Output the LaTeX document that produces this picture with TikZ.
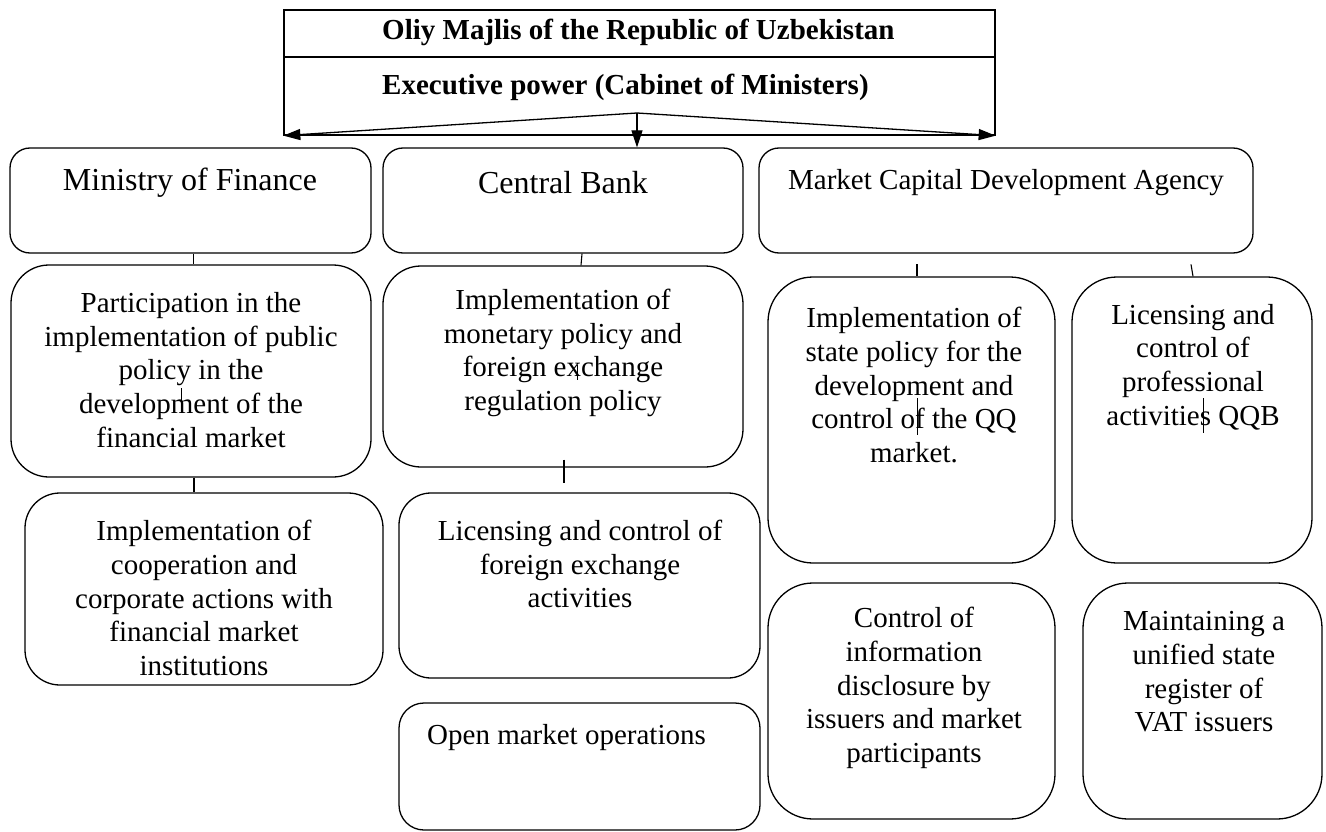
\documentclass[tikz,border=0pt]{standalone}
\usepackage{fontspec}
\setmainfont{Liberation Serif}
\usetikzlibrary{arrows.meta,calc}
\begin{document}
\begin{tikzpicture}[x=1pt,y=-1pt,
  box/.style={draw, line width=1.3pt, inner sep=0pt},
  rbox/.style={box, rounded corners=#1},
  txt/.style={inner sep=0pt, align=center, font=\fontsize{29}{33.7}\selectfont},
  ttl/.style={inner sep=0pt, font=\fontsize{32}{36}\selectfont},
  hd/.style={inner sep=0pt, anchor=west, font=\fontsize{29}{33}\selectfont\bfseries},
  link/.style={line width=1.1pt},
  thin/.style={line width=1pt},
  tip/.style={line width=1.3pt, -{Triangle[length=17pt,width=11pt]}}]

\fill[white] (0,0) rectangle (1326,832);
\useasboundingbox (0,0) rectangle (1326,832);

% header block
\node[box, minimum width=711pt, minimum height=125pt] (hdr) at (639.5,72.5) {};
\coordinate (divy) at (0,57);
\draw[line width=1.3pt] (hdr.west |- divy) -- (hdr.east |- divy);
\node[hd] (oliy) at (382,32) {Oliy Majlis of the Republic of Uzbekistan};
\node[hd] (exec) at (382,87) {Executive power (Cabinet of Ministers)};

% top-level bodies
\node[rbox=20pt, minimum width=361pt, minimum height=105pt] (mof) at (190.5,200.5) {};
\node[rbox=20pt, minimum width=360pt, minimum height=105pt] (cb) at (563,200.5) {};
\node[rbox=20pt, minimum width=494pt, minimum height=105pt] (mcda) at (1006,200.5) {};
\node[ttl] (moft) at (190,183) {Ministry of Finance};
\node[ttl] (cbt) at (563,183) {Central Bank};
\node[txt] (mcdat) at (1006,183) {Market Capital Development Agency};

% arrows from the executive
\coordinate (apex) at (637,113);
\draw[tip] (apex) -- (hdr.south west);
\draw[tip] (apex) -- (hdr.south east);
\draw[tip] (apex) -- (apex |- cb.north);

% Ministry of Finance functions
\node[rbox=38pt, minimum width=360pt, minimum height=212pt] (part) at (191,371) {};
\node[txt] (partt) at (191,370) {Participation in the\\implementation of public\\policy in the\\development of the\\financial market};
\node[rbox=35pt, minimum width=358pt, minimum height=192pt] (coop) at (204,589) {};
\node[txt] (coopt) at (204,598) {Implementation of\\cooperation and\\corporate actions with\\financial market\\institutions};

% Central Bank functions
\node[rbox=38pt, minimum width=360pt, minimum height=201pt] (mon) at (563,366.5) {};
\node[txt] (mont) at (563,353) {Implementation of\\monetary policy and\\foreign exchange\\regulation policy};
\node[rbox=32pt, minimum width=361pt, minimum height=185pt] (lic) at (579.5,585.5) {};
\node[txt] (lict) at (580,564) {Licensing and control of\\foreign exchange\\activities};
\node[rbox=25pt, minimum width=361pt, minimum height=127pt] (omo) at (579.5,766.5) {};
\node[txt, anchor=west] (omot) at (427,738) {Open market operations};

% Agency functions
\node[rbox=45pt, minimum width=287pt, minimum height=286pt] (state) at (911.5,420) {};
\node[txt] (statet) at (914,385) {Implementation of\\state policy for the\\development and\\control of the QQ\\market.};
\node[rbox=45pt, minimum width=240pt, minimum height=286pt] (prof) at (1192,420) {};
\node[txt] (proft) at (1193,367) {Licensing and\\control of\\professional\\activities QQB};
\node[rbox=45pt, minimum width=287pt, minimum height=236pt] (ctrl) at (911.5,701) {};
\node[txt] (ctrlt) at (914,688) {Control of\\information\\disclosure by\\issuers and market\\participants};
\node[rbox=45pt, minimum width=239pt, minimum height=236pt] (reg) at (1202.5,701) {};
\node[txt] (regt) at (1204,672) {Maintaining a\\unified state\\register of\\VAT issuers};

% connecting ticks
\draw[link] ([xshift=3pt]mof.south) -- ([xshift=3pt]mof.south |- part.north);
\draw[link] ([xshift=3pt]part.south) -- ([xshift=3pt]part.south |- coop.north);
\draw[link] ($(cb.south)+(19,0)$) -- ($(cb.south |- mon.north)+(18,0)$);
\draw[link] ($(mon.south)+(1,-8)$) -- ($(mon.south)+(1,15)$);
\draw[link] ($(state.north)+(5.5,-12)$) -- ($(state.north)+(5.5,0)$);
\draw[link] ($(prof.north)+(-1,-12)$) -- ($(prof.north)+(1,0)$);

% short strokes over the text
\draw[thin] ($(part.center)+(-10,17)$) -- ($(part.center)+(-10,31)$);
\draw[thin] ($(mon.center)+(14,-1.5)$) -- ($(mon.center)+(14,13.5)$);
\draw[thin] ($(state.center)+(5.5,-22)$) -- ($(state.center)+(5.5,15)$);
\draw[thin] ($(prof.center)+(11,-22)$) -- ($(prof.center)+(11,13)$);
\end{tikzpicture}
\end{document}
